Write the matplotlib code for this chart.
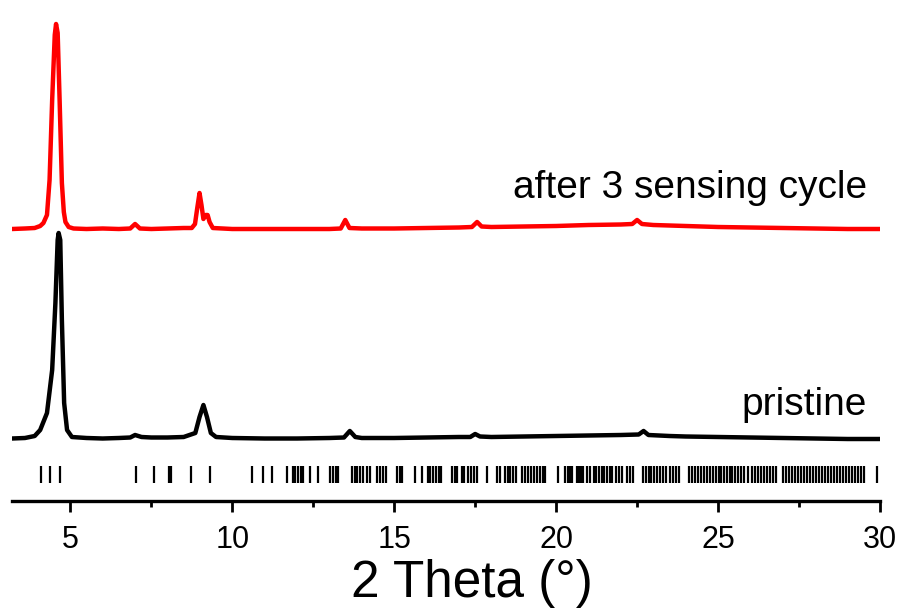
import matplotlib
matplotlib.use("Agg")
import matplotlib.pyplot as plt
from matplotlib.ticker import MultipleLocator

plt.rcParams['font.family'] = ['Liberation Sans', 'DejaVu Sans']

# ---- data ----
red_theta = [3.2, 3.6, 3.9, 4.07, 4.17, 4.28, 4.36, 4.44, 4.52, 4.56, 4.61, 4.67, 4.74, 4.80, 4.85,
             4.95, 5.1, 5.5, 6.0, 6.5, 6.85, 7.0, 7.15, 7.5, 8.0, 8.5, 8.75, 8.85, 8.92, 8.99,
             9.05, 9.11, 9.18, 9.24, 9.30, 9.40, 10, 11, 12, 13, 13.35, 13.49, 13.62, 14, 15,
             16, 17, 17.4, 17.56, 17.7, 18, 19, 20, 21, 22, 22.35, 22.5, 22.65, 23, 24, 25,
             26, 27, 28, 29, 30]
red_int = [0, 0.5, 1, 3, 6, 14, 49, 129, 194, 205, 196, 129, 46, 17, 7,
           2, 0.5, 0, 0.5, 0, 0.5, 5, 0.5, 0, 0.5, 1, 1, 5, 21, 36,
           24, 10, 14, 14, 7, 1, 0, 0, 0, 0, 0.5, 9, 1, 0.5, 0.5,
           1, 1.5, 2, 7, 2.5, 2, 2.5, 3, 4, 4.5, 5, 9, 5, 4, 3, 2,
           1.5, 1, 0.5, 0, 0]

black_theta = [3.2, 3.6, 3.9, 4.07, 4.28, 4.44, 4.54, 4.61, 4.64, 4.69, 4.74, 4.81, 4.90, 5.05,
               5.5, 6.0, 6.5, 6.85, 7.0, 7.2, 7.5, 8.0, 8.5, 8.86, 8.99, 9.11, 9.22, 9.34, 9.5,
               10, 11, 12, 13, 13.45, 13.63, 13.8, 14, 15, 16, 17, 17.35, 17.5, 17.65, 18, 19,
               20, 21, 22, 22.55, 22.7, 22.85, 23.5, 24, 25, 26, 27, 28, 29, 30]
black_int = [-0.5, 0, 2, 8, 25, 68, 135, 198, 205, 198, 118, 35, 8, 1,
             0, -0.5, 0, 0.5, 3, 1, 0.5, 0.5, 1, 5, 21, 33, 21, 5, 1,
             0, -0.5, -0.5, 0, 0.5, 7, 1, 0, 0, 0.5, 1, 1, 4, 1.5, 1, 1.5,
             2, 2.5, 3, 3.5, 7, 3, 2, 1.5, 1, 0.5, 0, -0.5, -1, -1]

red_offset = 272
black_offset = 63

bragg_positions = [
    4.10, 4.38, 4.69, 7.04, 7.59, 8.06, 8.12, 8.72, 9.32, 10.61, 10.96, 11.23,
    11.69, 11.87, 11.94, 12.04, 12.13, 12.19, 12.41, 12.65, 13.02, 13.11, 13.21, 13.27,
    13.70, 13.80, 13.86, 13.95, 14.04, 14.17, 14.26, 14.48, 14.57, 14.66, 14.75,
    15.09, 15.19, 15.25, 15.65, 15.85, 16.05, 16.11, 16.20, 16.30, 16.39, 16.45,
    16.79, 16.88, 16.94, 17.09, 17.16, 17.28, 17.38, 17.47, 17.56, 17.86, 18.18, 18.27,
    18.43, 18.52, 18.58, 18.67, 18.77, 18.95, 19.04, 19.14, 19.23, 19.32, 19.41, 19.51,
    19.60, 19.66, 20.06, 20.28, 20.37, 20.43, 20.49, 20.65, 20.71, 20.77, 20.83, 20.96,
    21.05, 21.17, 21.23, 21.33, 21.42, 21.48, 21.57, 21.67, 21.73, 21.85, 21.94, 22.04,
    22.19, 22.28, 22.38, 22.69, 22.78, 22.87, 22.93, 23.02, 23.12, 23.21, 23.30, 23.40,
    23.52, 23.61, 23.70, 23.80, 24.10, 24.20, 24.29, 24.38, 24.48, 24.57, 24.66, 24.75,
    24.85, 24.94, 25.03, 25.09, 25.19, 25.28, 25.37, 25.43, 25.52, 25.62, 25.71, 25.80,
    25.93, 26.05, 26.14, 26.23, 26.33, 26.42, 26.51, 26.60, 26.70, 26.79, 27.01, 27.10,
    27.19, 27.28, 27.38, 27.47, 27.56, 27.65, 27.75, 27.84, 27.93, 28.02, 28.12, 28.21,
    28.30, 28.40, 28.49, 28.58, 28.67, 28.77, 28.86, 28.95, 29.04, 29.14, 29.23, 29.32,
    29.41, 29.51, 29.90]

labels = ["after 3 sensing cycle", "pristine"]
xlabel = "2 Theta (°)"

# ---- figure ----
fig = plt.figure(figsize=(9.03, 6.15), dpi=100)
ax = fig.add_axes([12 / 903, (615 - 501) / 615, (880 - 12) / 903, 501 / 615])

ax.plot(black_theta, [v + black_offset for v in black_int], color='black', lw=3.2,
        solid_joinstyle='round')
ax.plot(red_theta, [v + red_offset for v in red_int], color='#ff0000', lw=3.2,
        solid_joinstyle='round')
ax.vlines(bragg_positions, 18, 35, color='black', lw=1.6)

ax.text(29.6, 313, labels[0], ha='right', va='center', fontsize=28)
ax.text(29.6, 96, labels[1], ha='right', va='center', fontsize=28)

ax.set_xlim(3.2, 30)
ax.set_ylim(0, 501)
for s in ['left', 'right', 'top']:
    ax.spines[s].set_visible(False)
ax.spines['bottom'].set_linewidth(2.4)
ax.set_yticks([])
ax.xaxis.set_major_locator(MultipleLocator(5))
ax.xaxis.set_minor_locator(MultipleLocator(2.5))
ax.tick_params(axis='x', which='major', direction='out', length=8, width=2.0,
               labelsize=22, pad=9)
ax.tick_params(axis='x', which='minor', direction='out', length=4, width=2.0)

fig.text(472 / 903, 1 - 583 / 615, xlabel, ha='center', va='center', fontsize=37)

fig.savefig("out.png", dpi=100)
